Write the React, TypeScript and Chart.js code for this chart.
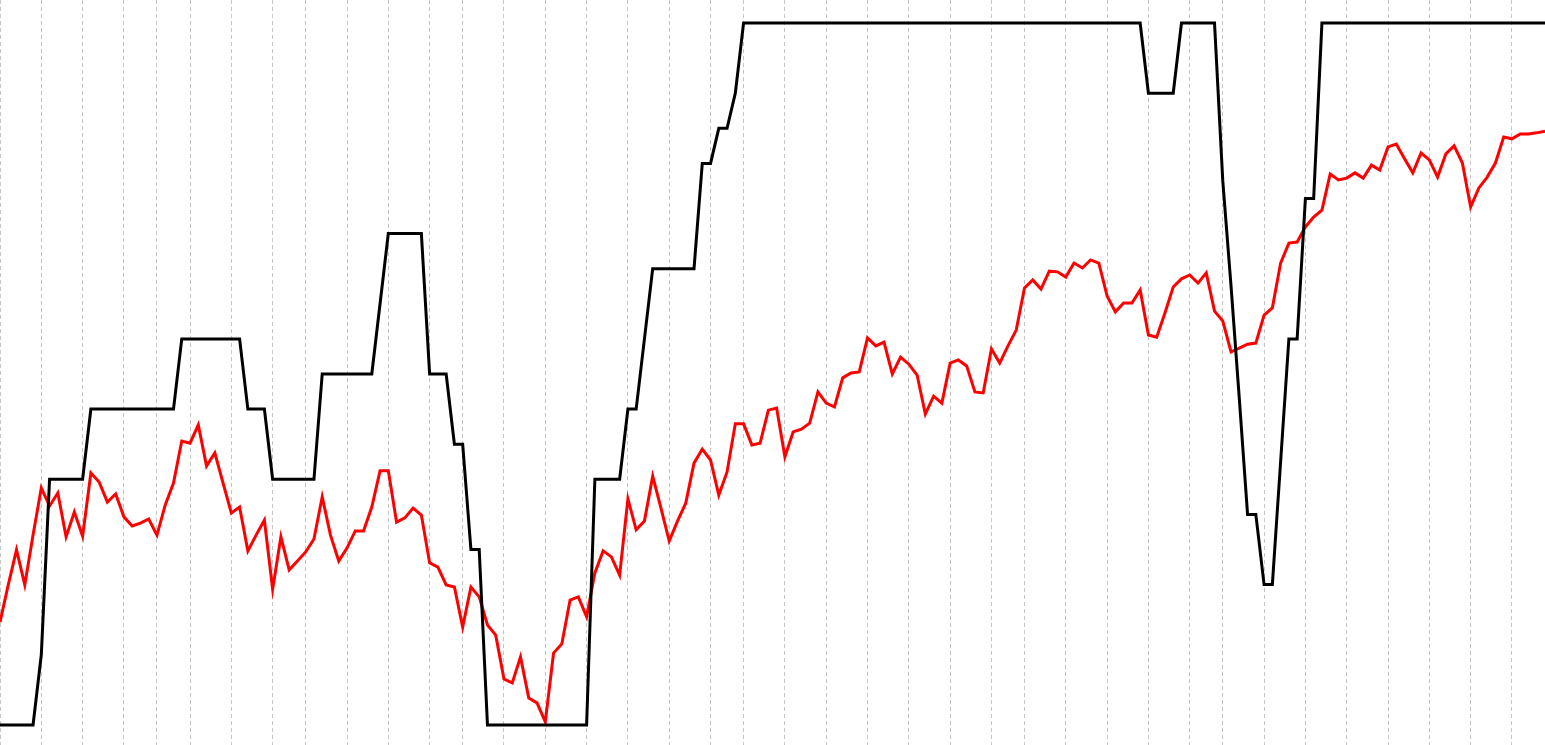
import React, { useEffect, useRef } from "react";
import { Chart, registerables } from "chart.js";

Chart.register(...registerables);

// Black series (step-like level, 188 daily points)
const blackValues: number[] = [
  0, 0, 0, 0, 0, 2, 7, 7, 7, 7, 7, 9, 9, 9, 9, 9, 9, 9, 9, 9, 9, 9,
  11, 11, 11, 11, 11, 11, 11, 11, 9, 9, 9, 7, 7, 7, 7, 7, 7,
  10, 10, 10, 10, 10, 10, 10, 12, 14, 14, 14, 14, 14, 10, 10, 10, 8, 8, 5, 5,
  0, 0, 0, 0, 0, 0, 0, 0, 0, 0, 0, 0, 0,
  7, 7, 7, 7, 9, 9, 11, 13, 13, 13, 13, 13, 13, 16, 16, 17, 17, 18,
  20, 20, 20, 20, 20, 20, 20, 20, 20, 20, 20, 20, 20, 20, 20, 20, 20, 20, 20, 20,
  20, 20, 20, 20, 20, 20, 20, 20, 20, 20, 20, 20, 20, 20, 20, 20, 20, 20, 20, 20,
  20, 20, 20, 20, 20, 20, 20, 20, 20,
  18, 18, 18, 18, 20, 20, 20, 20, 20, 15.5, 12.5, 9.3, 6, 6, 4, 4, 7.5, 11, 11, 15, 15,
  20, 20, 20, 20, 20, 20, 20, 20, 20, 20, 20, 20, 20, 20, 20, 20, 20, 20, 20, 20,
  20, 20, 20, 20, 20, 20, 20, 20,
];

// Red series
const redValues: number[] = [
  2.93, 3.99, 4.99, 3.99, 5.41, 6.75, 6.24, 6.61, 5.36, 6.07,
  5.38, 7.18, 6.92, 6.35, 6.58, 5.93, 5.67, 5.75, 5.87, 5.41,
  6.27, 6.89, 8.09, 8.03, 8.55, 7.38, 7.75, 6.89, 6.04, 6.21,
  4.96, 5.41, 5.84, 3.87, 5.36, 4.42, 4.67, 4.93, 5.3, 6.5,
  5.41, 4.67, 5.04, 5.53, 5.53, 6.21, 7.24, 7.24, 5.78, 5.9,
  6.18, 5.98, 4.62, 4.5, 3.99, 3.93, 2.79, 3.93, 3.65, 2.85,
  2.56, 1.31, 1.2, 1.94, 0.77, 0.63, 0.09, 2.05, 2.31, 3.56,
  3.65, 3.08, 4.33, 4.96, 4.79, 4.27, 6.44, 5.56, 5.81, 7.09,
  6.18, 5.24, 5.81, 6.32, 7.46, 7.86, 7.55, 6.55, 7.21, 8.58,
  8.58, 7.98, 8.03, 8.97, 9.03, 7.64, 8.35, 8.43, 8.6, 9.49,
  9.17, 9.06, 9.89, 10.03, 10.06, 11.03, 10.8, 10.91, 10.0, 10.48,
  10.28, 9.97, 8.86, 9.37, 9.17, 10.31, 10.4, 10.23, 9.49, 9.46,
  10.71, 10.31, 10.8, 11.25, 12.45, 12.68, 12.42, 12.93, 12.91, 12.76,
  13.16, 13.02, 13.25, 13.16, 12.22, 11.77, 12.02, 12.02, 12.39, 11.11,
  11.05, 11.74, 12.48, 12.71, 12.82, 12.59, 12.88, 11.79, 11.51, 10.63,
  10.74, 10.85, 10.88, 11.68, 11.88, 13.16, 13.73, 13.76, 14.19, 14.47,
  14.67, 15.7, 15.53, 15.58, 15.73, 15.58, 15.95, 15.81, 16.47, 16.55,
  16.13, 15.73, 16.3, 16.1, 15.61, 16.27, 16.5, 16.01, 14.76, 15.3,
  15.61, 16.01, 16.75, 16.7, 16.84, 16.84, 16.87, 16.92,
];

// Positions (point indices) of the vertical dashed grid lines
const gridIndices: number[] = [
  0, 5, 10, 15, 19, 23, 28, 33, 37, 42, 47, 52, 56, 61, 66, 71, 76, 81, 86, 90,
  95, 100, 105, 110, 115, 120, 124, 129, 134, 139, 144, 148, 153, 158, 163, 168,
  173, 178, 183,
];

const Y_MIN = -0.57;
const Y_MAX = 20.655;

export default function App() {
  const canvasRef = useRef<HTMLCanvasElement | null>(null);

  useEffect(() => {
    document.body.style.margin = "0";
    const canvas = canvasRef.current;
    if (!canvas) return;
    const chart = new Chart(canvas, {
      type: "line",
      data: {
        datasets: [
          {
            label: "black",
            data: blackValues.map((v, i) => ({ x: i, y: v })),
            borderColor: "#000000",
            borderWidth: 3,
            pointRadius: 0,
            tension: 0,
            fill: false,
          },
          {
            label: "red",
            data: redValues.map((v, i) => ({ x: i, y: v })),
            borderColor: "#ff0000",
            borderWidth: 3,
            pointRadius: 0,
            tension: 0,
            fill: false,
          },
        ],
      },
      options: {
        animation: false,
        responsive: true,
        maintainAspectRatio: false,
        layout: { padding: 0 },
        plugins: {
          legend: { display: false },
          tooltip: { enabled: false },
        },
        scales: {
          x: {
            type: "linear",
            min: 0,
            max: redValues.length - 1,
            afterBuildTicks: (scale: any) => {
              scale.ticks = gridIndices.map((v) => ({ value: v }));
            },
            ticks: { display: false },
            border: { display: false, dash: [4, 3] },
            grid: {
              color: "#c4c4c4",
              lineWidth: 1,
              drawTicks: false,
            },
          },
          y: {
            display: false,
            min: Y_MIN,
            max: Y_MAX,
          },
        },
      },
    });
    return () => chart.destroy();
  }, []);

  return (
    <div style={{ position: "fixed", left: 0, top: 0, width: "100vw", height: "100vh" }}>
      <canvas ref={canvasRef} />
    </div>
  );
}
